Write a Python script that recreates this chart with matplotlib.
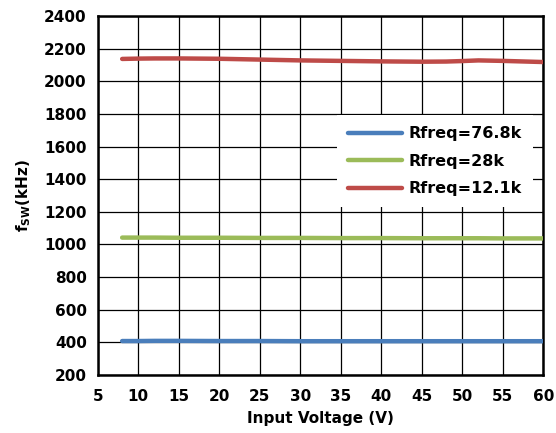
import matplotlib.pyplot as plt
import numpy as np

plt.rcParams['font.family'] = ['DejaVu Sans']
plt.rcParams['font.weight'] = 'bold'
plt.rcParams['mathtext.default'] = 'bf'

vin = [8, 10, 12, 15, 20, 25, 30, 35, 40, 45, 48, 50, 52, 55, 60]
f_76k8 = [408, 408, 409, 409, 408, 408, 407, 407, 407, 407, 407, 407, 407, 407, 407]
f_28k = [1042, 1042, 1042, 1041, 1041, 1040, 1040, 1039, 1039, 1038, 1038, 1038, 1038, 1037, 1037]
f_12k1 = [2137, 2139, 2140, 2140, 2138, 2133, 2128, 2125, 2122, 2120, 2121, 2124, 2128, 2125, 2118]

fig = plt.figure(figsize=(5.56, 4.33), dpi=100)
ax = fig.add_axes([0.176, 0.134, 0.801, 0.829])

ax.plot(vin, f_76k8, color='#4a7ebb', lw=3.2, solid_capstyle='round', label='Rfreq=76.8k', zorder=3)
ax.plot(vin, f_28k, color='#9bbb59', lw=3.2, solid_capstyle='round', label='Rfreq=28k', zorder=3)
ax.plot(vin, f_12k1, color='#be4b48', lw=3.2, solid_capstyle='round', label='Rfreq=12.1k', zorder=3)

ax.set_xlim(5, 60)
ax.set_ylim(200, 2400)
ax.set_xticks(np.arange(5, 61, 5))
ax.set_yticks(np.arange(200, 2401, 200))
ax.grid(True, color='black', lw=0.9)
for s in ax.spines.values():
    s.set_linewidth(1.8)
ax.tick_params(length=0, labelsize=11, pad=8)
ax.tick_params(axis='x', pad=10)

ax.set_xlabel('Input Voltage (V)', fontsize=11, fontweight='bold', labelpad=5)
ax.set_ylabel(r'f$_{\mathbf{SW}}$(kHz)', fontsize=11, fontweight='bold', labelpad=8)

# legend box sits over the grid, white with no edge
leg = ax.legend(loc='upper left', bbox_to_anchor=(0.537, 0.724), frameon=True, fontsize=11.5,
                handlelength=3.4, handletextpad=0.35, labelspacing=0.78, borderaxespad=0,
                borderpad=0.7, fancybox=False)
leg.get_frame().set_edgecolor('none')
leg.get_frame().set_facecolor('white')
leg.get_frame().set_alpha(1)

fig.savefig('out.png', dpi=100)
